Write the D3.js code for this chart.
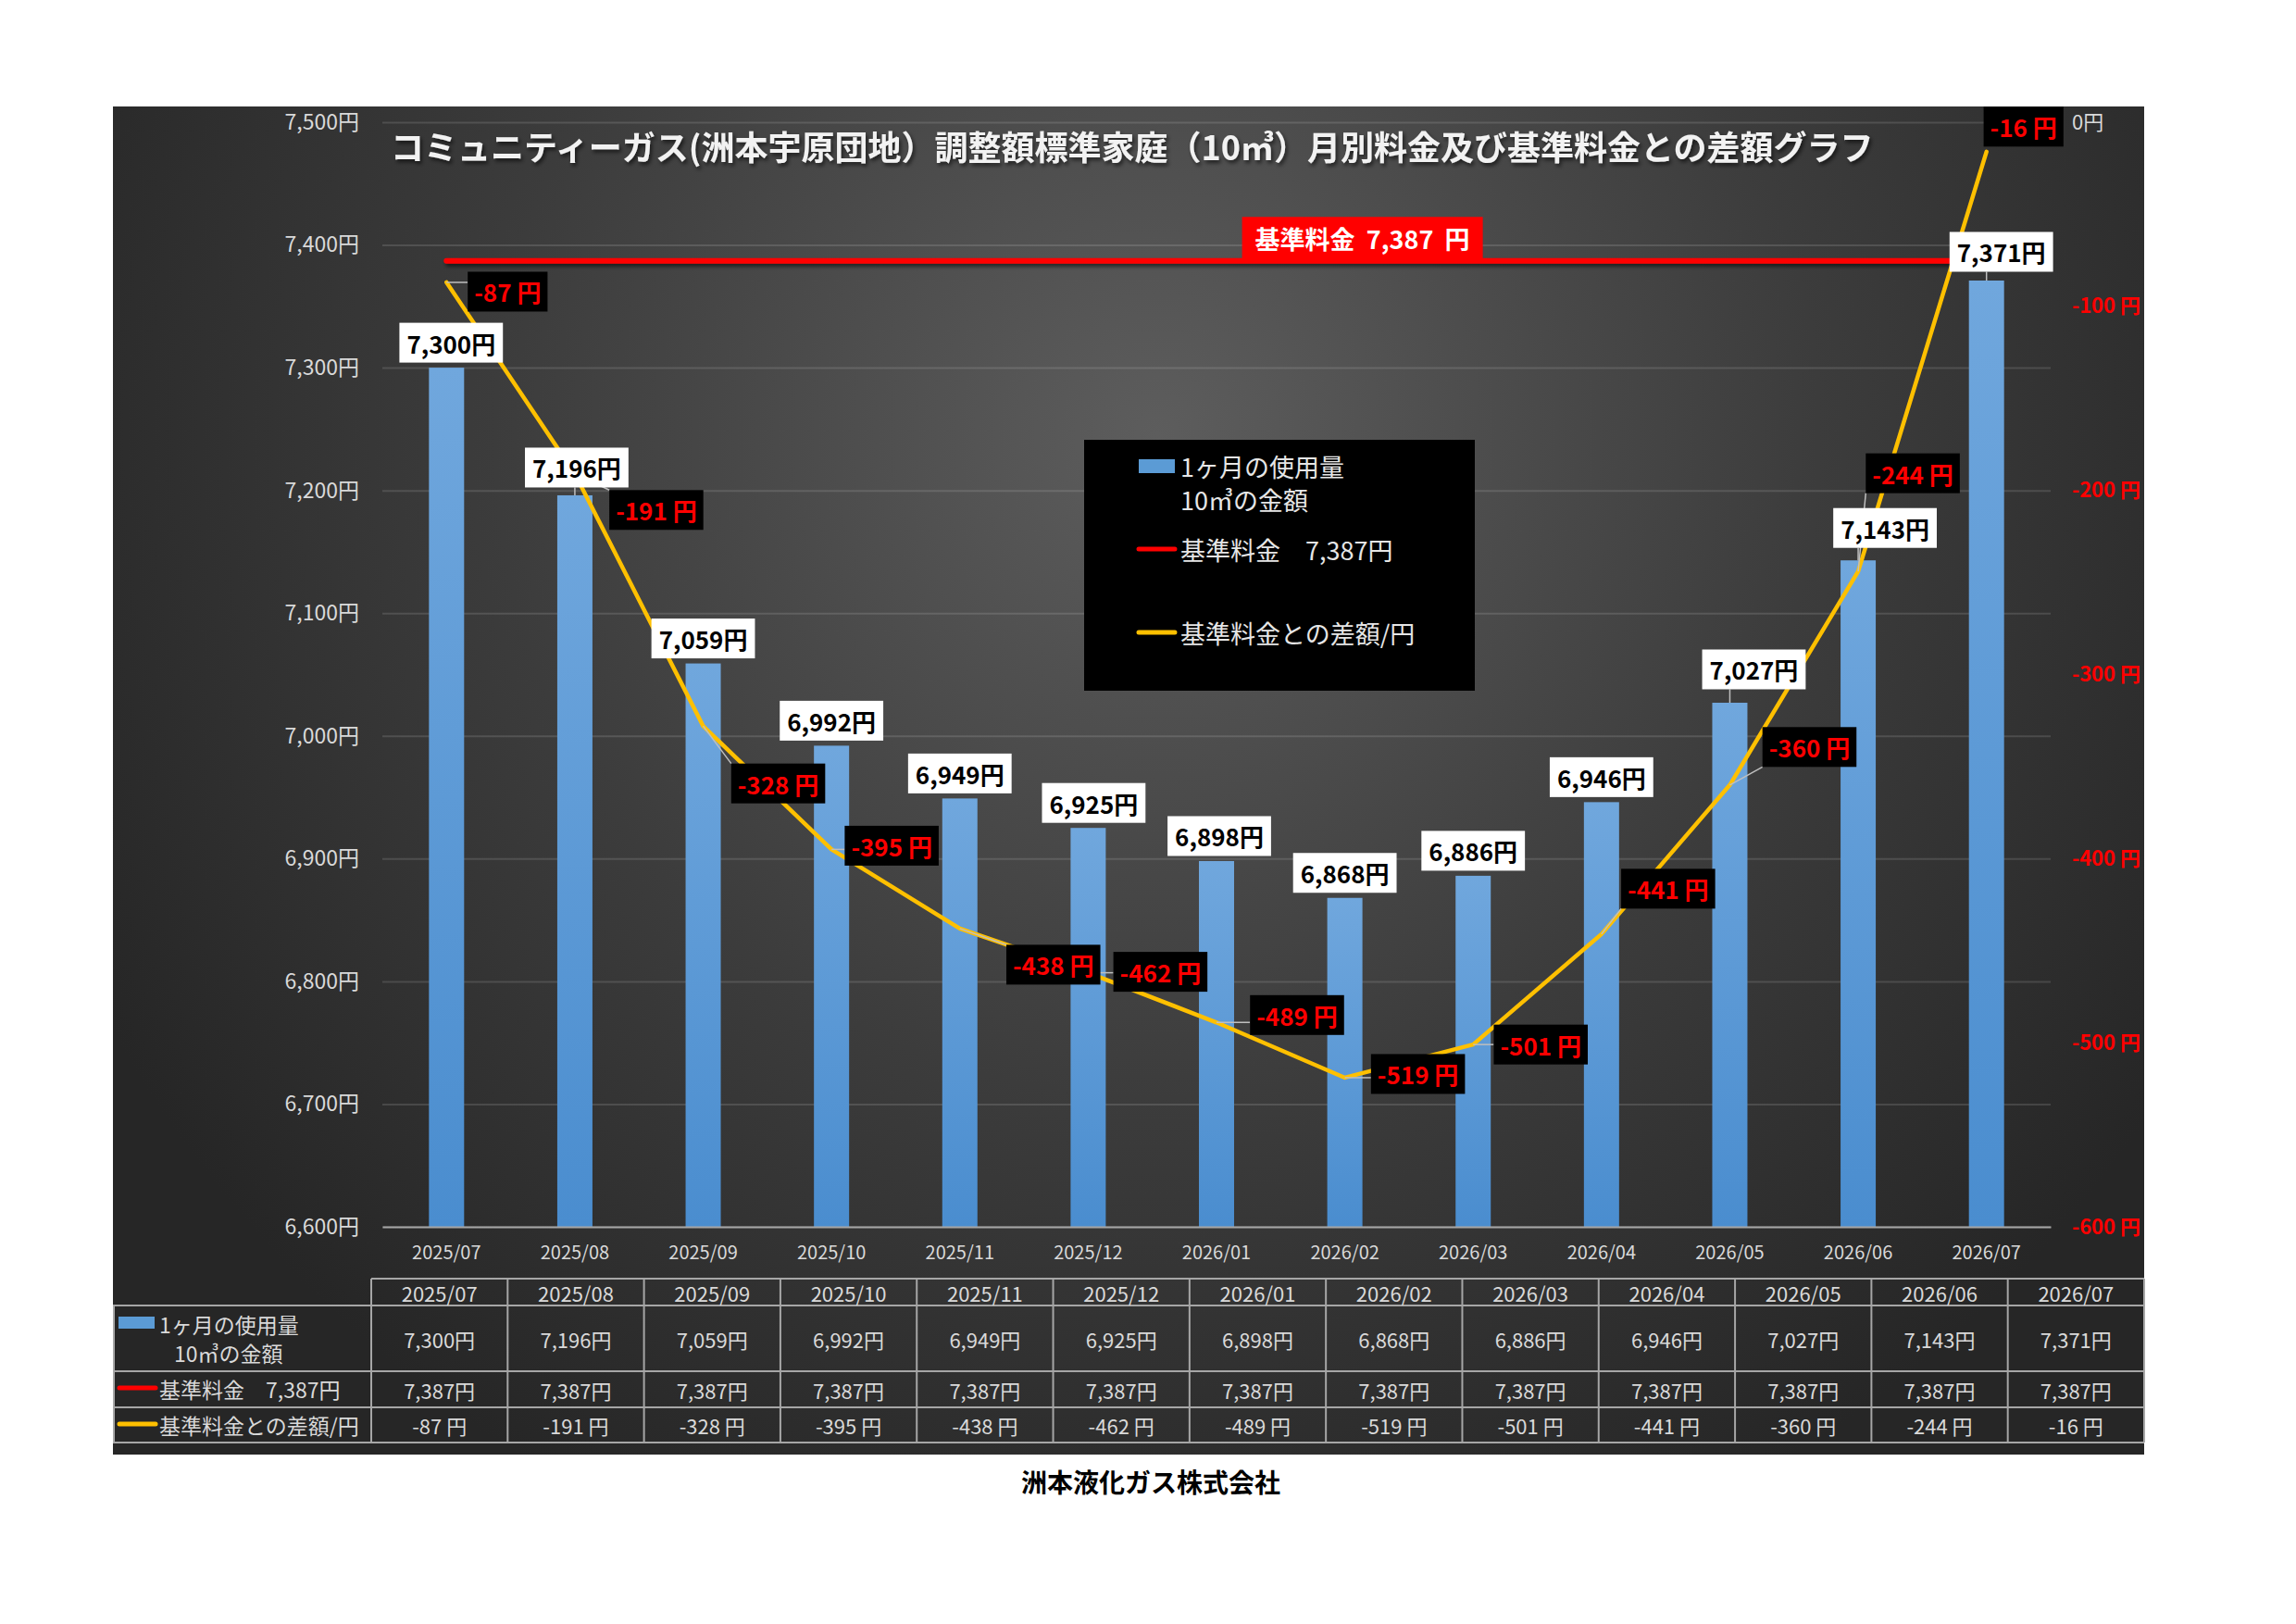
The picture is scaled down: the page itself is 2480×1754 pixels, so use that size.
<!DOCTYPE html>
<html lang="ja">
<head>
  <meta charset="UTF-8">
  <title>差額グラフ</title>
  <script src="https://cdn.jsdelivr.net/npm/d3@7/dist/d3.min.js"></script>
  <style>
    body { margin: 0; background: #fff; }
    svg text { font-family: "Noto Sans CJK JP", "Noto Sans", sans-serif; }
  </style>
</head>
<body>
<script>
  // data
  var months = ["2025/07","2025/08","2025/09","2025/10","2025/11","2025/12",
                "2026/01","2026/02","2026/03","2026/04","2026/05","2026/06","2026/07"];
  var prices = [7300, 7196, 7059, 6992, 6949, 6925, 6898, 6868, 6886, 6946, 7027, 7143, 7371];
  var basePrice = 7387;
  var diffs = [-87, -191, -328, -395, -438, -462, -489, -519, -501, -441, -360, -244, -16];
  var leftTicks = [6600, 6700, 6800, 6900, 7000, 7100, 7200, 7300, 7400, 7500];
  var rightTicks = [0, -100, -200, -300, -400, -500, -600];

  var title = "コミュニティーガス(洲本宇原団地）調整額標準家庭（10㎥）月別料金及び基準料金との差額グラフ";
  var seriesNames = ["1ヶ月の使用量", "10㎥の金額", "基準料金　7,387円", "基準料金との差額/円"];

  // label nudges, in px (layout only)
  var priceShift = [[5,0],[2,-3],[0,0],[0,0],[0,0],[6,0],[3,0],[0,0],[0,0],[0,0],[26,-9],[29,-8],[16,-4]];
  var diffShift = [[66,10],[88,39],[81,62],[65,-4],[101,39],[78,-1],[87,-8],[79,-4],[73,0],[72,-49],[86,-41],[59,-106],[40,-27]];

  var W = 2480, H = 1754;
  var panel = {x0: 122, y0: 115, x1: 2316, y1: 1571};
  var plot = {left: 413, right: 2215, top: 132, bottom: 1325};
  var txt = "#d9d9d9";

  var svg = d3.select("body").append("svg")
    .attr("width", W).attr("height", H);

  var defs = svg.append("defs");
  var bg = defs.append("radialGradient").attr("id", "bg")
    .attr("gradientUnits", "userSpaceOnUse")
    .attr("cx", 1250).attr("cy", 470).attr("r", 1300);
  bg.append("stop").attr("offset", 0).attr("stop-color", "#5d5d5d");
  bg.append("stop").attr("offset", 0.55).attr("stop-color", "#3c3c3c");
  bg.append("stop").attr("offset", 1).attr("stop-color", "#262626");

  var barGrad = defs.append("linearGradient").attr("id", "barGrad")
    .attr("x1", 0).attr("y1", 0).attr("x2", 0).attr("y2", 1);
  barGrad.append("stop").attr("offset", 0).attr("stop-color", "#70a7dd");
  barGrad.append("stop").attr("offset", 1).attr("stop-color", "#4a8dcf");

  // shadow in user space so flat lines still render
  var shadow = defs.append("filter").attr("id", "shadow")
    .attr("filterUnits", "userSpaceOnUse")
    .attr("x", 0).attr("y", 0).attr("width", W).attr("height", H);
  shadow.append("feDropShadow").attr("dx", 2).attr("dy", 3).attr("stdDeviation", 2)
    .attr("flood-color", "#000").attr("flood-opacity", 0.6);

  // dark panel
  svg.append("rect")
    .attr("x", panel.x0).attr("y", panel.y0)
    .attr("width", panel.x1 - panel.x0).attr("height", panel.y1 - panel.y0)
    .attr("fill", "url(#bg)");

  // scales
  var x = d3.scaleBand().domain(months)
    .range([plot.left, plot.right])
    .paddingInner(0.726).paddingOuter(0.363);
  var yL = d3.scaleLinear().domain([6600, 7500]).range([plot.bottom, plot.top]);
  var yR = d3.scaleLinear().domain([-600, 0]).range([plot.bottom, plot.top]);
  var cx = function(m) { return x(m) + x.bandwidth() / 2; };

  // left axis + gridlines
  var gL = svg.append("g")
    .attr("transform", "translate(" + plot.left + ",0)")
    .call(d3.axisLeft(yL).tickValues(leftTicks)
      .tickSize(-(plot.right - plot.left)).tickPadding(25)
      .tickFormat(function(d) { return d3.format(",")(d) + "円"; }));
  gL.select(".domain").remove();
  gL.selectAll(".tick line").attr("stroke", "#ffffff").attr("stroke-opacity", 0.13).attr("stroke-width", 2);
  gL.selectAll(".tick text").attr("fill", txt).attr("font-size", 23)
    .style("font-family", '"Noto Sans CJK JP", sans-serif');

  // right axis
  var gR = svg.append("g")
    .attr("transform", "translate(2238,0)")
    .call(d3.axisRight(yR).tickValues(rightTicks).tickSize(0).tickPadding(0)
      .tickFormat(function(d) { return d === 0 ? "0円" : d + " 円"; }));
  gR.select(".domain").remove();
  gR.selectAll(".tick text")
    .attr("font-size", 22)
    .attr("font-weight", function(d) { return d === 0 ? "normal" : "bold"; })
    .attr("fill", function(d) { return d === 0 ? txt : "#ff0000"; })
    .style("font-family", '"Noto Sans CJK JP", sans-serif');

  // bars
  svg.append("g").selectAll("rect")
    .data(prices)
    .enter().append("rect")
    .attr("x", function(d, i) { return x(months[i]); })
    .attr("y", function(d) { return yL(d); })
    .attr("width", x.bandwidth())
    .attr("height", function(d) { return yL(6600) - yL(d); })
    .attr("fill", "url(#barGrad)");

  // bottom axis
  var gB = svg.append("g")
    .attr("transform", "translate(0," + plot.bottom + ")")
    .call(d3.axisBottom(x).tickSize(0).tickSizeOuter(0).tickPadding(21));
  gB.select(".domain").attr("stroke", "#a6a6a6").attr("stroke-width", 2);
  gB.selectAll(".tick text").attr("fill", txt).attr("font-size", 20)
    .style("font-family", '"Noto Sans CJK JP", sans-serif');

  // base price line
  var baseLine = d3.line()
    .x(function(d) { return cx(d); })
    .y(function() { return yL(basePrice); });
  svg.append("path").datum(months)
    .attr("d", baseLine)
    .attr("fill", "none").attr("stroke", "#ff0000")
    .attr("stroke-width", 6).attr("stroke-linecap", "round")
    .attr("filter", "url(#shadow)");

  // difference line
  var diffLine = d3.line()
    .x(function(d, i) { return cx(months[i]); })
    .y(function(d) { return yR(d); });
  svg.append("path").datum(diffs)
    .attr("d", diffLine)
    .attr("fill", "none").attr("stroke", "#ffc000")
    .attr("stroke-width", 4.5).attr("stroke-linejoin", "round").attr("stroke-linecap", "round");

  // title
  svg.append("text")
    .attr("x", 422).attr("y", 157)
    .attr("dominant-baseline", "central")
    .attr("font-size", 36).attr("font-weight", "bold")
    .attr("fill", "#f2f2f2").attr("filter", "url(#shadow)")
    .text(title);

  // legend
  var lg = svg.append("g");
  lg.append("rect").attr("x", 1171).attr("y", 475).attr("width", 422).attr("height", 271).attr("fill", "#000");
  lg.append("rect").attr("x", 1230).attr("y", 496).attr("width", 39).attr("height", 15).attr("fill", "#5b9bd5");
  lg.append("line").attr("x1", 1230).attr("x2", 1269).attr("y1", 593).attr("y2", 593)
    .attr("stroke", "#ff0000").attr("stroke-width", 5).attr("stroke-linecap", "round");
  lg.append("line").attr("x1", 1230).attr("x2", 1269).attr("y1", 683).attr("y2", 683)
    .attr("stroke", "#ffc000").attr("stroke-width", 5).attr("stroke-linecap", "round");
  lg.selectAll("text.item")
    .data([[seriesNames[0], 503], [seriesNames[1], 539], [seriesNames[2], 593], [seriesNames[3], 683]])
    .enter().append("text")
    .attr("x", 1275).attr("y", function(d) { return d[1]; })
    .attr("dominant-baseline", "central")
    .attr("font-size", 27).attr("fill", "#e6e6e6")
    .text(function(d) { return d[0]; });

  // boxed labels
  var labels = svg.append("g");
  var leaders = labels.append("g");

  function boxLabel(cxp, cyp, str, fill, color, size, padX, h, ax, ay) {
    var g = labels.append("g");
    var t = g.append("text")
      .attr("x", cxp).attr("y", cyp)
      .attr("text-anchor", "middle").attr("dominant-baseline", "central")
      .attr("font-size", size).attr("font-weight", "bold")
      .attr("fill", color).style("white-space", "pre").text(str);
    var w = t.node().getComputedTextLength() + padX * 2;
    var bx = cxp - w / 2, by = cyp - h / 2;
    g.insert("rect", function() { return t.node(); })
      .attr("x", bx).attr("y", by).attr("width", w).attr("height", h)
      .attr("fill", fill);
    if (ax !== undefined) {
      var px = Math.max(bx, Math.min(ax, bx + w));
      var py = Math.max(by, Math.min(ay, by + h));
      if (Math.hypot(px - ax, py - ay) > 6) {
        leaders.append("line")
          .attr("x1", ax).attr("y1", ay).attr("x2", px).attr("y2", py)
          .attr("stroke", "#bfbfbf").attr("stroke-width", 1.5);
      }
    }
  }

  prices.forEach(function(v, i) {
    var ax = cx(months[i]), ay = yL(v);
    boxLabel(ax + priceShift[i][0], ay - 27 + priceShift[i][1],
      d3.format(",")(v) + "円", "#ffffff", "#000000", 26, 8, 43, ax, ay);
  });

  diffs.forEach(function(v, i) {
    var ax = cx(months[i]), ay = yR(v);
    boxLabel(ax + diffShift[i][0], ay + diffShift[i][1],
      v + " 円", "#000000", "#ff0000", 26, 7, 43, ax, ay);
  });

  // base price label on the red line
  boxLabel(cx(months[7]) + 19, yL(basePrice) - 24,
    "基準料金  7,387  円", "#ff0000", "#ffffff", 27, 14, 47);

  // data table
  var tbl = svg.append("g");
  var colX0 = 401, colW = (panel.x1 - colX0) / months.length;
  var rowY = [1381, 1410, 1481, 1520, 1558];
  var lineCol = "#a6a6a6";

  tbl.append("line").attr("x1", colX0).attr("x2", panel.x1).attr("y1", rowY[0]).attr("y2", rowY[0])
    .attr("stroke", lineCol).attr("stroke-width", 2);
  tbl.selectAll("line.h").data(rowY.slice(1)).enter().append("line")
    .attr("x1", panel.x0).attr("x2", panel.x1)
    .attr("y1", function(d) { return d; }).attr("y2", function(d) { return d; })
    .attr("stroke", lineCol).attr("stroke-width", 2);
  tbl.selectAll("line.v").data(d3.range(months.length + 1)).enter().append("line")
    .attr("x1", function(d) { return colX0 + d * colW; })
    .attr("x2", function(d) { return colX0 + d * colW; })
    .attr("y1", rowY[0]).attr("y2", rowY[4])
    .attr("stroke", lineCol).attr("stroke-width", 2);
  tbl.append("line").attr("x1", panel.x0 + 1).attr("x2", panel.x0 + 1).attr("y1", rowY[1]).attr("y2", rowY[4])
    .attr("stroke", lineCol).attr("stroke-width", 2);

  var rows = [
    {y: (rowY[0] + rowY[1]) / 2, vals: months},
    {y: (rowY[1] + rowY[2]) / 2, vals: prices.map(function(d) { return d3.format(",")(d) + "円"; })},
    {y: (rowY[2] + rowY[3]) / 2, vals: months.map(function() { return d3.format(",")(basePrice) + "円"; })},
    {y: (rowY[3] + rowY[4]) / 2, vals: diffs.map(function(d) { return d + " 円"; })}
  ];
  rows.forEach(function(r) {
    tbl.selectAll(null).data(r.vals).enter().append("text")
      .attr("x", function(d, i) { return colX0 + (i + 0.5) * colW; })
      .attr("y", r.y)
      .attr("text-anchor", "middle").attr("dominant-baseline", "central")
      .attr("font-size", 22).attr("fill", txt)
      .text(function(d) { return d; });
  });

  // row headers with keys
  tbl.append("rect").attr("x", 128).attr("y", 1422).attr("width", 39).attr("height", 13).attr("fill", "#5b9bd5");
  tbl.append("line").attr("x1", 129).attr("x2", 168).attr("y1", 1499).attr("y2", 1499)
    .attr("stroke", "#ff0000").attr("stroke-width", 5).attr("stroke-linecap", "round");
  tbl.append("line").attr("x1", 129).attr("x2", 168).attr("y1", 1538).attr("y2", 1538)
    .attr("stroke", "#ffc000").attr("stroke-width", 5).attr("stroke-linecap", "round");
  tbl.selectAll("text.rh")
    .data([[seriesNames[0], 172, 1430], [seriesNames[1], 188, 1461], [seriesNames[2], 172, 1500], [seriesNames[3], 172, 1539]])
    .enter().append("text")
    .attr("x", function(d) { return d[1]; }).attr("y", function(d) { return d[2]; })
    .attr("dominant-baseline", "central")
    .attr("font-size", 23).attr("fill", txt)
    .text(function(d) { return d[0]; });

  // footer
  svg.append("text")
    .attr("x", 1243).attr("y", 1600)
    .attr("text-anchor", "middle").attr("dominant-baseline", "central")
    .attr("font-size", 28).attr("font-weight", "bold").attr("fill", "#000")
    .text("洲本液化ガス株式会社");
</script>
</body>
</html>
